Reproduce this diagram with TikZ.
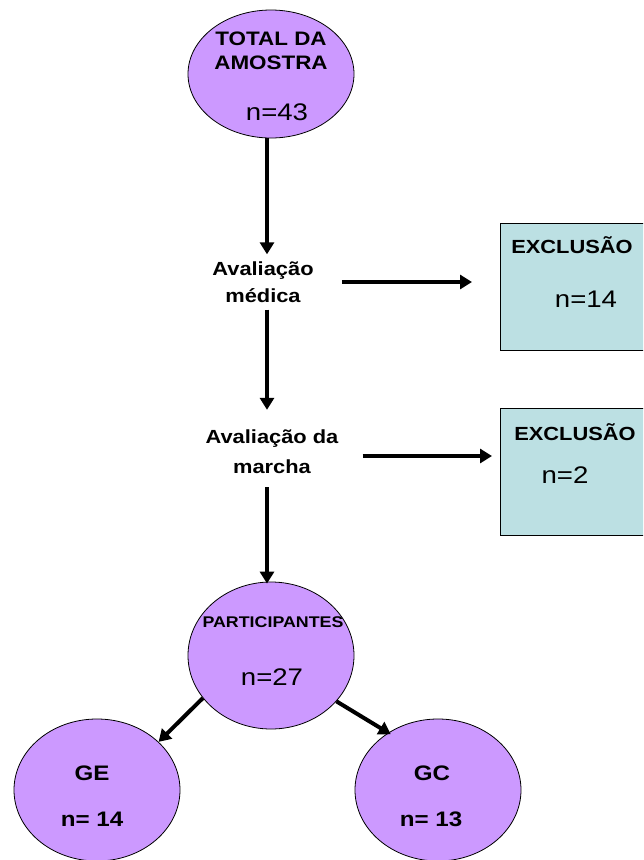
\documentclass[tikz,border=0pt]{standalone}
\usepackage{fontspec}
\setmainfont[FakeStretch=1.15]{Liberation Sans}
\usetikzlibrary{shapes.geometric, arrows.meta}
\definecolor{lila}{RGB}{204,153,255}
\definecolor{azul}{RGB}{188,224,227}

\begin{document}
\begin{tikzpicture}[
    x=1pt, y=-1pt,
    every node/.style={inner sep=0pt},
    oval/.style={ellipse, draw=black, line width=0.8pt, fill=lila, minimum width=166pt},
    excl/.style={draw=black, line width=0.8pt, fill=azul, minimum width=146pt, minimum height=127pt},
    tit/.style={font=\bfseries\fontsize{19}{27}\selectfont, align=center},
    num/.style={font=\fontsize{24}{28}\selectfont},
    bnum/.style={font=\bfseries\fontsize{21}{25}\selectfont},
    arr/.style={line width=4pt, -{Triangle[length=12pt,width=14pt]}},
]
\useasboundingbox (0,0) rectangle (643,860);
\clip (0,0) rectangle (643,860);

% amostra
\node[oval, minimum height=128pt] (total) at (271,74) {};
\node[tit, font=\bfseries\fontsize{19.5}{24}\selectfont] (totaltit) at (271,51) {TOTAL DA\\AMOSTRA};
\node[num] (totaln) at (277,112) {n=43};

% avaliacoes
\node[tit] (medica) at (263,282) {Avaliação\\médica};
\node[tit, font=\bfseries\fontsize{19}{30}\selectfont] (marcha) at (272,452) {Avaliação da\\marcha};

% exclusoes
\node[excl, anchor=north west] (excl1) at (500,223) {};
\node[tit, font=\bfseries\fontsize{19}{22}\selectfont] (excl1tit) at (572,245) {EXCLUSÃO};
\node[num] (excl1n) at (586,299) {n=14};
\node[excl, anchor=north west] (excl2) at (500,408) {};
\node[tit, font=\bfseries\fontsize{19}{22}\selectfont] (excl2tit) at (575,432) {EXCLUSÃO};
\node[num] (excl2n) at (565,475) {n=2};

% participantes
\node[oval, minimum height=147pt] (part) at (271,655.5) {};
\node[tit, font=\bfseries\fontsize{15.5}{20}\selectfont] (parttit) at (273,622) {PARTICIPANTES};
\node[num] (partn) at (272,677) {n=27};

% grupos
\node[oval, minimum height=142pt] (ge) at (97,790) {};
\node[tit, font=\bfseries\fontsize{21}{25}\selectfont] (getit) at (92,773) {GE};
\node[bnum] (gen) at (92,819) {n= 14};
\node[oval, minimum height=142pt] (gc) at (438,790) {};
\node[tit, font=\bfseries\fontsize{21}{25}\selectfont] (gctit) at (432,773) {GC};
\node[bnum] (gcn) at (431,819) {n= 13};

% setas
\draw[arr, shorten >=7pt] ([xshift=-4pt]total.south) -- ([xshift=-4pt]total.south |- medica.north);
\draw[arr, shorten <=7pt, shorten >=20pt] ([xshift=4pt]medica.south) -- ([xshift=4pt]medica.south |- marcha.north);
\draw[arr, shorten <=13pt, shorten >=-2pt] ([xshift=-5pt]marcha.south) -- ([xshift=-5pt]marcha.south |- part.north);
\draw[arr, shorten <=28pt, shorten >=28pt] (medica.east) -- (medica.east -| excl1.west);
\draw[arr, shorten <=24pt, shorten >=8pt] ([yshift=-4pt]marcha.east) -- ([yshift=-4pt]marcha.east -| excl2.west);
\draw[arr] (part.212) -- (ge.38);
\draw[arr, shorten >=-3pt] (part.325) -- (gc.131);
\end{tikzpicture}
\end{document}
